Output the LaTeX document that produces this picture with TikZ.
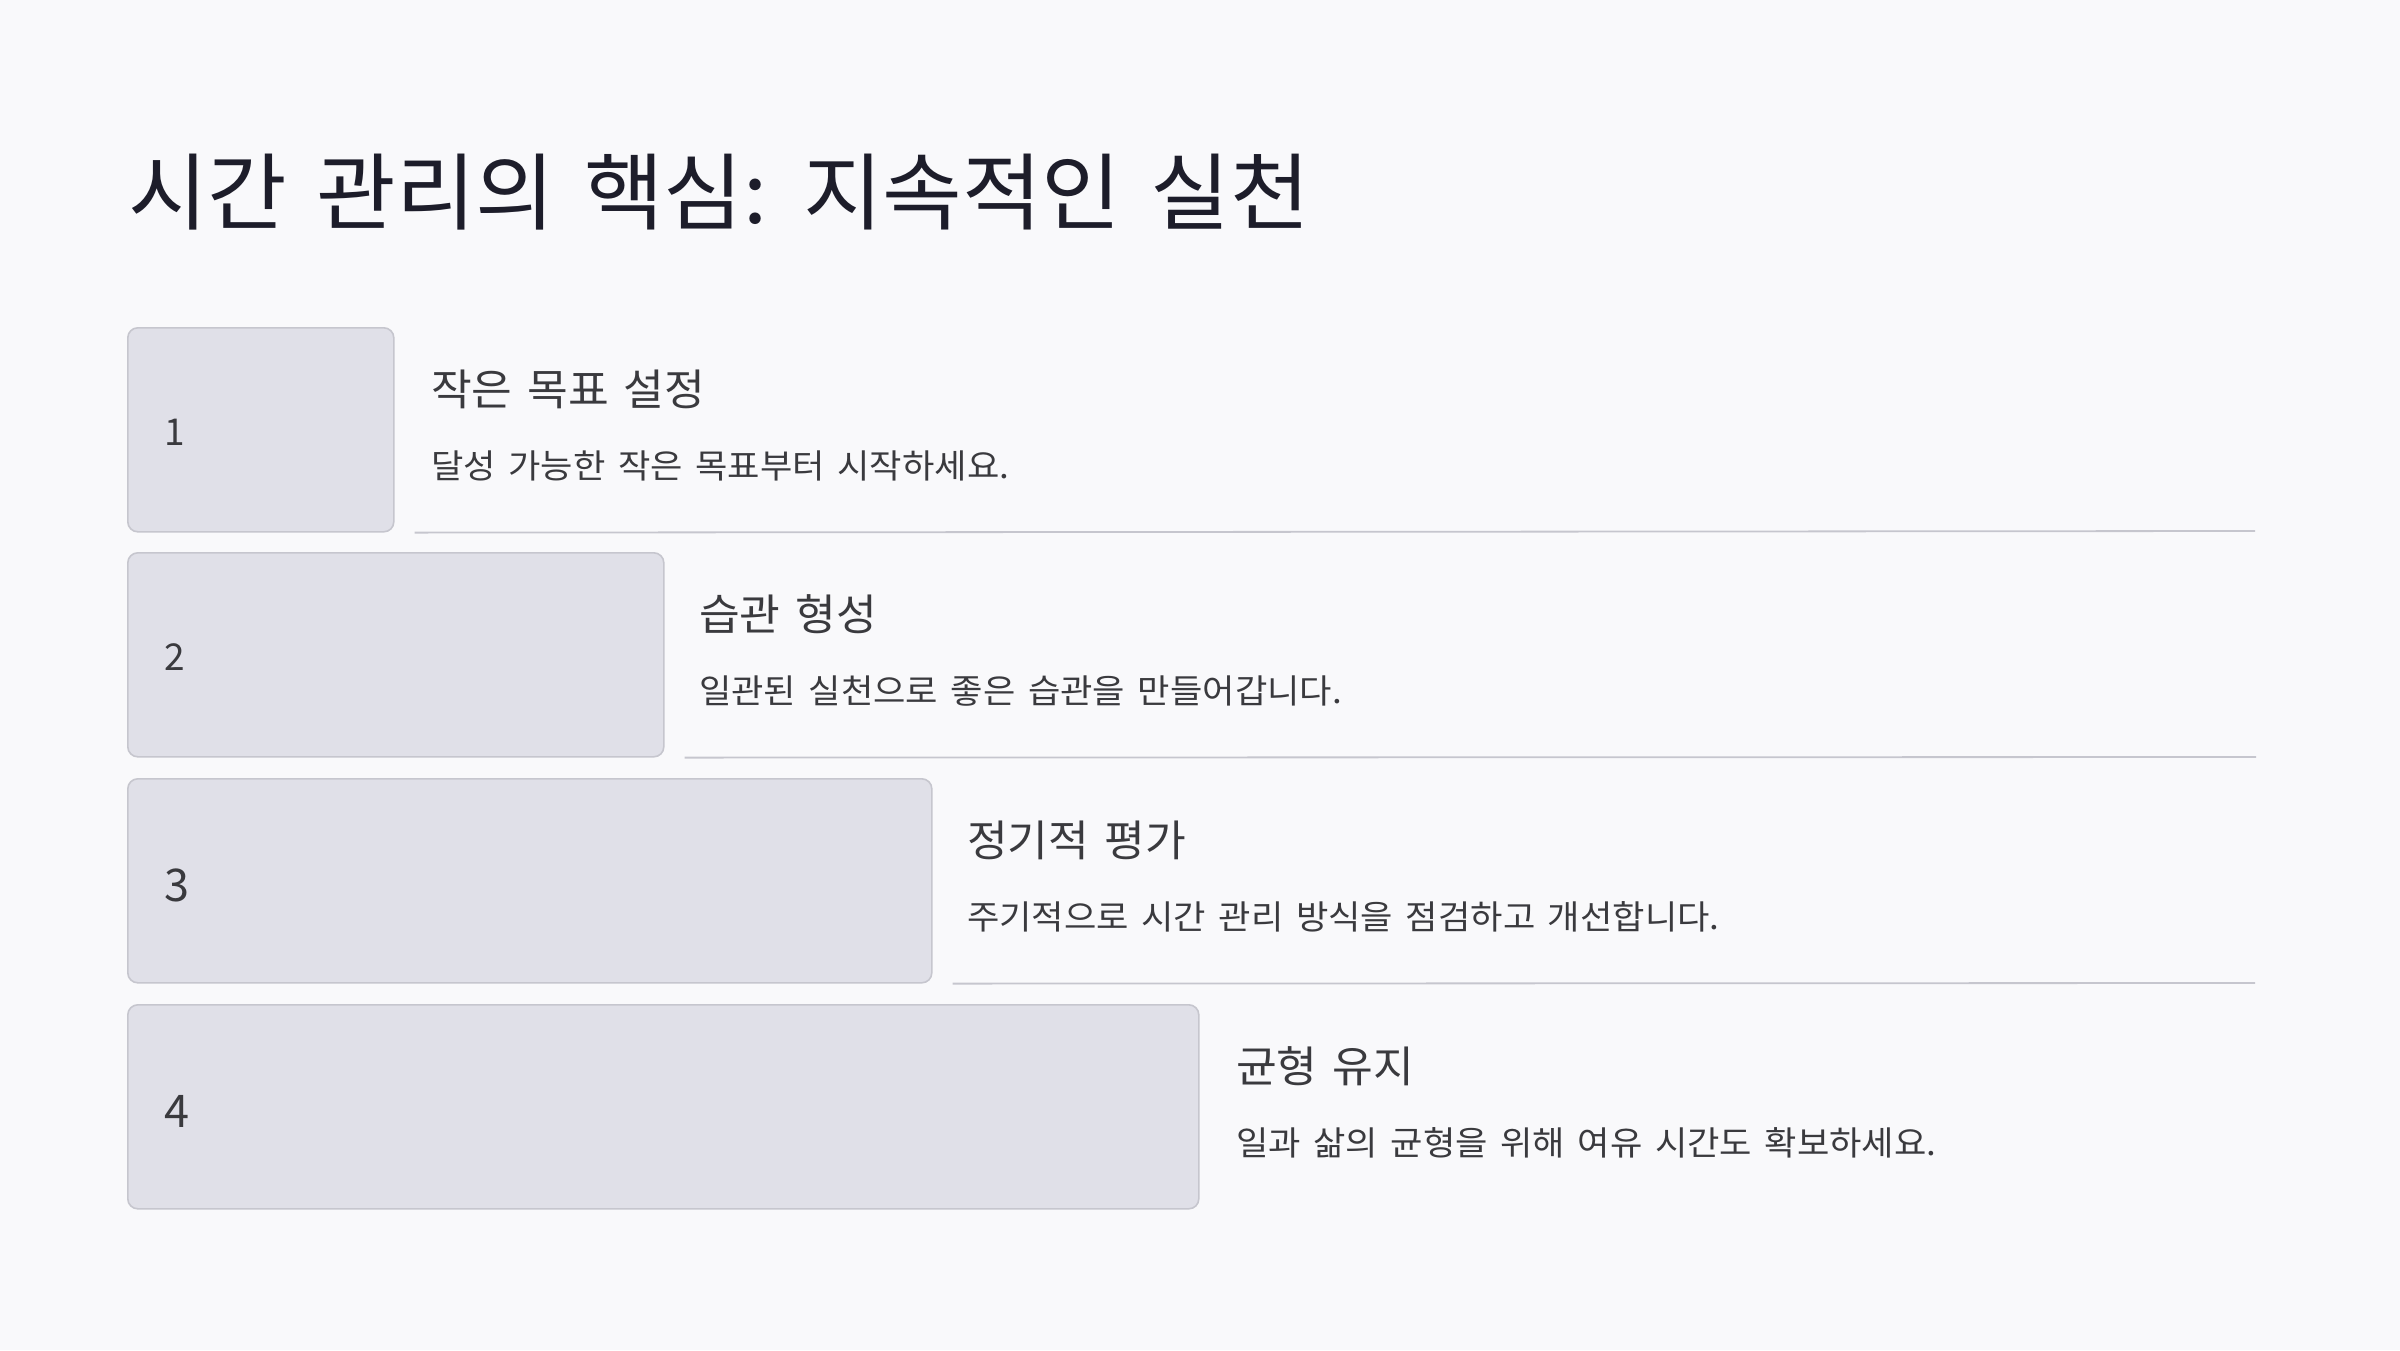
\documentclass[tikz,border=0pt]{standalone}
\usepackage{fontspec}
\setmainfont{Noto Sans CJK KR}
\newfontfamily\titlefont[FakeStretch=1.03, WordSpace=1.5]{Noto Sans CJK KR}
\newfontfamily\headfont[FakeStretch=1.03, WordSpace=1.5]{Noto Sans CJK KR}
\newfontfamily\bodyfont[FakeStretch=1.05, WordSpace=1.6]{Noto Sans CJK KR}
\definecolor{bgc}{HTML}{F9F9FB}
\definecolor{boxfill}{HTML}{E0E0E8}
\definecolor{boxline}{HTML}{C6C6CE}
\definecolor{titlec}{HTML}{1D1D2A}
\definecolor{textc}{HTML}{3A3A3E}
\begin{document}
\begin{tikzpicture}[x=1pt,y=-1pt,
  stepbox/.style={draw=boxline, fill=boxfill, rounded corners=10pt, line width=1.6pt, anchor=north west, inner sep=0pt, minimum height=204pt},
  sepline/.style={draw=boxline, line width=1.8pt},
  titletxt/.style={anchor=west, inner sep=0pt, text=titlec, font=\titlefont\fontsize{84}{100}\selectfont},
  headtxt/.style={anchor=west, inner sep=0pt, text=textc, font=\headfont\fontsize{43}{52}\selectfont},
  bodytxt/.style={anchor=west, inner sep=0pt, text=textc, font=\bodyfont\fontsize{33.5}{40}\selectfont},
  numsmall/.style={anchor=west, inner sep=0pt, text=textc, font=\fontsize{37}{44}\selectfont},
  numbig/.style={anchor=west, inner sep=0pt, text=textc, font=\fontsize{45}{54}\selectfont}]
\fill[bgc] (0,0) rectangle (2400,1350);
\useasboundingbox (0,0) rectangle (2400,1350);

\node[titletxt] (title) at (128,192) {시간 관리의 핵심: 지속적인 실천};

% boxes
\node[stepbox, minimum width=266pt] (b1) at (127,327) {};
\node[stepbox, minimum width=536pt] (b2) at (127,552) {};
\node[stepbox, minimum width=804pt] (b3) at (127,778) {};
\node[stepbox, minimum width=1071pt] (b4) at (127,1004) {};

% numbers
\node[numsmall] (n1) at (164,432) {1};
\node[numsmall] (n2) at (164,657) {2};
\node[numbig] (n3) at (164,885) {3};
\node[numbig] (n4) at (164,1111) {4};

% separators
\coordinate (e1) at (2255,531);
\coordinate (e2) at (2256,757);
\coordinate (e3) at (2255,983);
\draw[sepline] ([xshift=20pt]b1.south east) -- (e1);
\draw[sepline] ([xshift=20pt]b2.south east) -- (e2);
\draw[sepline] ([xshift=20pt]b3.south east) -- (e3);

% texts
\node[headtxt] (h1) at (431,389) {작은 목표 설정};
\node[bodytxt] (d1) at (431,466) {달성 가능한 작은 목표부터 시작하세요.};
\node[headtxt] (h2) at (699,614) {습관 형성};
\node[bodytxt] (d2) at (699,691) {일관된 실천으로 좋은 습관을 만들어갑니다.};
\node[headtxt] (h3) at (967,840) {정기적 평가};
\node[bodytxt] (d3) at (967,917) {주기적으로 시간 관리 방식을 점검하고 개선합니다.};
\node[headtxt] (h4) at (1236,1066) {균형 유지};
\node[bodytxt] (d4) at (1236,1143) {일과 삶의 균형을 위해 여유 시간도 확보하세요.};
\end{tikzpicture}
\end{document}
